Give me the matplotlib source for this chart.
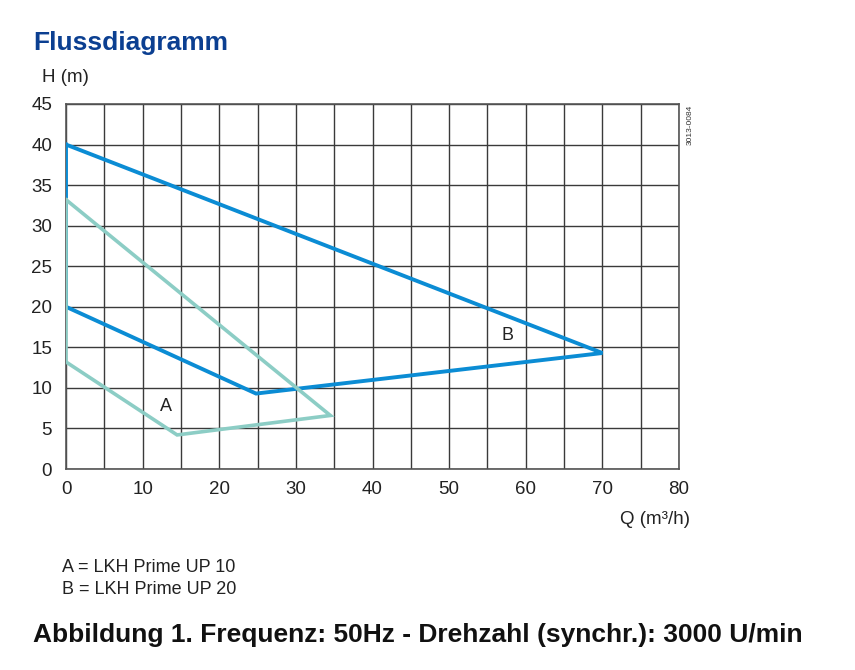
import matplotlib.pyplot as plt

plt.rcParams['font.family'] = ['Liberation Sans', 'DejaVu Sans']

# Kurve A = LKH Prime UP 10, Kurve B = LKH Prime UP 20
q_a = [0, 34.5, 14.5, 0, 0]
h_a = [33.2, 6.6, 4.2, 13.2, 33.2]
q_b = [0, 70, 24.8, 0, 0]
h_b = [40, 14.3, 9.3, 20, 40]

x_ticks = list(range(0, 81, 10))
y_ticks = list(range(0, 46, 5))
legend_lines = ["A = LKH Prime UP 10", "B = LKH Prime UP 20"]

col_a = '#8ccdc5'
col_b = '#0b8cd4'
col_title = '#0b3f91'

fig = plt.figure(figsize=(8.55, 6.7), dpi=100)
ax = fig.add_axes([66 / 855, 1 - 469 / 670, 613 / 855, 365 / 670])

ax.plot(q_b, h_b, color=col_b, lw=2.8, solid_joinstyle='miter', zorder=3)
ax.plot(q_a, h_a, color=col_a, lw=2.6, solid_joinstyle='miter', zorder=4)

ax.text(13.1, 7.7, 'A', fontsize=13, color='#222222', ha='center', va='center')
ax.text(57.6, 16.4, 'B', fontsize=13, color='#222222', ha='center', va='center')

ax.set_xlim(0, 80)
ax.set_ylim(0, 45)
ax.set_xticks(range(0, 81, 5))
ax.set_xticklabels([str(v) if v in x_ticks else '' for v in range(0, 81, 5)])
ax.set_yticks(y_ticks)
ax.set_yticklabels([str(v) for v in y_ticks])
ax.grid(True, color='#3a3a3a', lw=1.0)
ax.set_axisbelow(True)
ax.tick_params(length=0, labelsize=13.5, colors='#222222', pad=9)
ax.tick_params(axis='y', pad=10)
for s in ax.spines.values():
    s.set_color('#555555')
    s.set_linewidth(1.2)

fig.text(33 / 855, 1 - 43 / 670, 'Flussdiagramm', fontsize=19, fontweight='bold',
         color=col_title, ha='left', va='center')
fig.text(42 / 855, 1 - 78 / 670, 'H (m)', fontsize=13.5, color='#222222', ha='left', va='center')
fig.text(690 / 855, 1 - 520 / 670, 'Q (m³/h)', fontsize=13.5, color='#222222',
         ha='right', va='center')
fig.text(690 / 855, 1 - 125 / 670, '3013-0084', fontsize=6, color='#333333',
         rotation=90, ha='center', va='center')
for i, line in enumerate(legend_lines):
    fig.text(62 / 855, 1 - (568 + 22 * i) / 670, line, fontsize=13, color='#222222',
             ha='left', va='center')
fig.text(33 / 855, 1 - 635 / 670, 'Abbildung 1. Frequenz: 50Hz - Drehzahl (synchr.): 3000 U/min',
         fontsize=19, fontweight='bold', color='#111111', ha='left', va='center')

fig.savefig('out.png', dpi=100)
